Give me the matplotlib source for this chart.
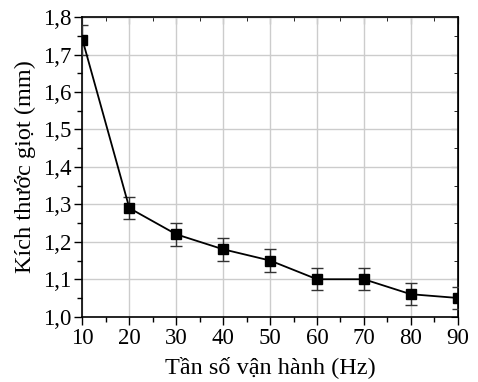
import numpy as np
import matplotlib.pyplot as plt
from matplotlib.ticker import MultipleLocator

# data
freq = [10, 20, 30, 40, 50, 60, 70, 80, 90]
size = [1.74, 1.29, 1.22, 1.18, 1.15, 1.10, 1.10, 1.06, 1.05]
err = [0.04, 0.03, 0.03, 0.03, 0.03, 0.03, 0.03, 0.03, 0.03]

plt.rcParams['font.family'] = ['Liberation Serif', 'DejaVu Serif']

fig = plt.figure(figsize=(4.78, 3.82), dpi=100)
ax = fig.add_axes([0.1725, 0.171, 0.785, 0.784])

# points at the axis ends get clipped like in the original
ax.errorbar(freq, size, yerr=err, color='black', marker='s', markersize=6.5,
            linewidth=1.3, elinewidth=1, ecolor='#333333', capsize=4, capthick=1, zorder=3)

ax.set_xlim(10, 90)
ax.set_ylim(1.0, 1.8)
ax.xaxis.set_major_locator(MultipleLocator(10))
ax.xaxis.set_minor_locator(MultipleLocator(5))
ax.yaxis.set_major_locator(MultipleLocator(0.1))
ax.yaxis.set_minor_locator(MultipleLocator(0.05))
ax.yaxis.set_major_formatter(lambda v, p: f"{v:.1f}".replace('.', ','))

ax.grid(True, which='major', color='#cccccc', linewidth=1)
ax.set_axisbelow(True)

ax.tick_params(axis='both', which='major', labelsize=16.5, direction='out', length=6, width=1, pad=2)
ax.tick_params(axis='both', which='minor', direction='out', length=3.5, width=1)
# inward ticks on top / right like Origin
ax2 = ax.secondary_xaxis('top')
ax2.xaxis.set_major_locator(MultipleLocator(10))
ax2.xaxis.set_minor_locator(MultipleLocator(5))
ax2.tick_params(which='major', direction='in', length=5, labeltop=False)
ax2.tick_params(which='minor', direction='in', length=3)
ax3 = ax.secondary_yaxis('right')
ax3.yaxis.set_major_locator(MultipleLocator(0.1))
ax3.yaxis.set_minor_locator(MultipleLocator(0.05))
ax3.tick_params(which='major', direction='in', length=5, labelright=False)
ax3.tick_params(which='minor', direction='in', length=3)

for s in ax.spines.values():
    s.set_linewidth(1.2)

ax.set_xlabel('Tần số vận hành (Hz)', fontsize=17.5, labelpad=5)
ax.set_ylabel('Kích thước giọt (mm)', fontsize=17.5, labelpad=5)

fig.savefig('out.png', dpi=100)
